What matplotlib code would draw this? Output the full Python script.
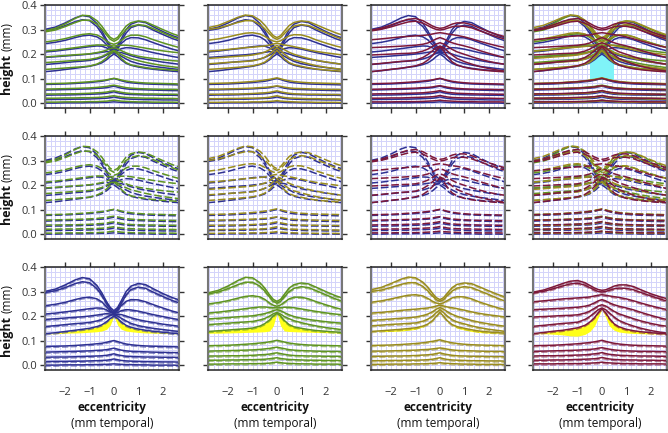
import matplotlib
matplotlib.use("Agg")
import matplotlib.pyplot as plt
from matplotlib.ticker import MultipleLocator
from matplotlib import transforms

# eccentricity samples (mm temporal)
x_mm = [-2.85, -2.4, -2.0, -1.6, -1.3, -1.0, -0.7, -0.5, -0.3, -0.15, 0.0,
        0.15, 0.3, 0.5, 0.7, 1.0, 1.3, 1.6, 2.0, 2.4, 2.7]

# layer boundary heights (mm), top to bottom
blue_layers = [
    [0.300, 0.310, 0.327, 0.347, 0.357, 0.352, 0.325, 0.295, 0.258, 0.235, 0.222, 0.235, 0.262, 0.300, 0.322, 0.333, 0.328, 0.312, 0.292, 0.275, 0.265],
    [0.296, 0.303, 0.316, 0.332, 0.340, 0.336, 0.312, 0.284, 0.250, 0.228, 0.215, 0.228, 0.252, 0.286, 0.308, 0.318, 0.313, 0.298, 0.280, 0.263, 0.253],
    [0.242, 0.248, 0.256, 0.267, 0.274, 0.277, 0.270, 0.258, 0.238, 0.220, 0.211, 0.222, 0.243, 0.260, 0.267, 0.266, 0.258, 0.247, 0.233, 0.220, 0.212],
    [0.208, 0.212, 0.217, 0.222, 0.226, 0.230, 0.233, 0.232, 0.225, 0.216, 0.210, 0.214, 0.222, 0.226, 0.225, 0.220, 0.213, 0.206, 0.198, 0.190, 0.185],
    [0.186, 0.189, 0.192, 0.195, 0.197, 0.200, 0.204, 0.207, 0.210, 0.208, 0.206, 0.207, 0.206, 0.200, 0.193, 0.185, 0.179, 0.174, 0.167, 0.162, 0.158],
    [0.157, 0.161, 0.165, 0.169, 0.171, 0.174, 0.180, 0.186, 0.196, 0.203, 0.205, 0.200, 0.191, 0.180, 0.170, 0.161, 0.155, 0.150, 0.145, 0.140, 0.137],
    [0.128, 0.132, 0.137, 0.142, 0.146, 0.150, 0.157, 0.164, 0.177, 0.190, 0.200, 0.190, 0.176, 0.162, 0.154, 0.147, 0.142, 0.138, 0.134, 0.130, 0.128],
    [0.076, 0.077, 0.078, 0.080, 0.082, 0.084, 0.087, 0.089, 0.093, 0.097, 0.100, 0.096, 0.091, 0.086, 0.083, 0.080, 0.078, 0.077, 0.076, 0.075, 0.074],
    [0.053, 0.054, 0.055, 0.056, 0.057, 0.058, 0.060, 0.061, 0.063, 0.066, 0.069, 0.065, 0.061, 0.058, 0.056, 0.055, 0.054, 0.053, 0.052, 0.051, 0.051],
    [0.032, 0.033, 0.033, 0.034, 0.035, 0.036, 0.037, 0.038, 0.040, 0.043, 0.046, 0.042, 0.039, 0.036, 0.035, 0.034, 0.033, 0.033, 0.032, 0.032, 0.031],
    [0.014, 0.015, 0.015, 0.016, 0.016, 0.017, 0.018, 0.019, 0.020, 0.022, 0.025, 0.022, 0.019, 0.017, 0.016, 0.015, 0.014, 0.014, 0.013, 0.013, 0.012],
    [0.000, 0.000, 0.001, 0.001, 0.001, 0.002, 0.002, 0.003, 0.003, 0.004, 0.005, 0.004, 0.003, 0.002, 0.002, 0.001, 0.001, 0.000, 0.000, 0.000, -0.001],
]
blue_fill_low = [0.127, 0.128, 0.130, 0.131, 0.132, 0.134, 0.136, 0.139, 0.146, 0.163, 0.200, 0.163, 0.146, 0.139, 0.136, 0.133, 0.131, 0.130, 0.129, 0.128, 0.127]

green_layers = [
    [0.294, 0.305, 0.323, 0.345, 0.358, 0.356, 0.336, 0.314, 0.286, 0.268, 0.260, 0.268, 0.288, 0.314, 0.328, 0.335, 0.331, 0.318, 0.300, 0.283, 0.273],
    [0.290, 0.298, 0.312, 0.328, 0.338, 0.338, 0.322, 0.302, 0.277, 0.260, 0.252, 0.260, 0.278, 0.300, 0.313, 0.320, 0.316, 0.304, 0.287, 0.270, 0.260],
    [0.249, 0.255, 0.263, 0.273, 0.280, 0.283, 0.278, 0.268, 0.253, 0.244, 0.240, 0.245, 0.256, 0.270, 0.277, 0.277, 0.270, 0.259, 0.246, 0.234, 0.226],
    [0.212, 0.216, 0.221, 0.226, 0.230, 0.234, 0.237, 0.237, 0.235, 0.234, 0.233, 0.234, 0.236, 0.236, 0.234, 0.229, 0.224, 0.219, 0.213, 0.208, 0.205],
    [0.188, 0.191, 0.194, 0.197, 0.199, 0.201, 0.206, 0.210, 0.216, 0.222, 0.226, 0.222, 0.214, 0.205, 0.198, 0.191, 0.186, 0.182, 0.177, 0.173, 0.171],
    [0.165, 0.168, 0.171, 0.174, 0.176, 0.178, 0.184, 0.190, 0.200, 0.209, 0.215, 0.208, 0.198, 0.189, 0.181, 0.173, 0.166, 0.160, 0.153, 0.148, 0.144],
    [0.137, 0.140, 0.143, 0.146, 0.148, 0.151, 0.159, 0.169, 0.184, 0.200, 0.212, 0.200, 0.182, 0.165, 0.156, 0.150, 0.145, 0.141, 0.138, 0.135, 0.133],
    [0.079, 0.080, 0.081, 0.083, 0.085, 0.087, 0.090, 0.092, 0.095, 0.098, 0.101, 0.098, 0.094, 0.090, 0.087, 0.084, 0.082, 0.081, 0.080, 0.079, 0.078],
    [0.057, 0.058, 0.059, 0.060, 0.061, 0.062, 0.064, 0.066, 0.068, 0.071, 0.073, 0.070, 0.067, 0.063, 0.061, 0.059, 0.058, 0.057, 0.056, 0.056, 0.055],
    [0.037, 0.037, 0.038, 0.038, 0.039, 0.040, 0.042, 0.043, 0.045, 0.048, 0.050, 0.047, 0.044, 0.041, 0.039, 0.038, 0.037, 0.037, 0.036, 0.036, 0.035],
    [0.020, 0.020, 0.021, 0.021, 0.022, 0.022, 0.023, 0.024, 0.026, 0.028, 0.030, 0.027, 0.025, 0.023, 0.022, 0.021, 0.020, 0.020, 0.019, 0.019, 0.018],
    [0.004, 0.004, 0.005, 0.005, 0.005, 0.006, 0.006, 0.007, 0.008, 0.010, 0.012, 0.010, 0.008, 0.007, 0.006, 0.005, 0.005, 0.004, 0.004, 0.004, 0.003],
]
green_fill_low = [0.130, 0.130, 0.131, 0.132, 0.133, 0.134, 0.135, 0.136, 0.139, 0.160, 0.212, 0.160, 0.139, 0.137, 0.136, 0.135, 0.134, 0.133, 0.132, 0.131, 0.130]

olive_layers = [
    [0.307, 0.317, 0.333, 0.350, 0.359, 0.356, 0.338, 0.318, 0.292, 0.275, 0.267, 0.275, 0.293, 0.316, 0.329, 0.335, 0.332, 0.320, 0.303, 0.287, 0.277],
    [0.300, 0.306, 0.317, 0.329, 0.336, 0.336, 0.321, 0.303, 0.281, 0.267, 0.260, 0.267, 0.283, 0.302, 0.314, 0.320, 0.316, 0.304, 0.288, 0.271, 0.260],
    [0.256, 0.262, 0.270, 0.279, 0.285, 0.287, 0.282, 0.272, 0.260, 0.253, 0.250, 0.254, 0.263, 0.274, 0.279, 0.278, 0.270, 0.258, 0.245, 0.233, 0.226],
    [0.212, 0.215, 0.219, 0.223, 0.226, 0.228, 0.231, 0.233, 0.237, 0.241, 0.244, 0.241, 0.237, 0.234, 0.230, 0.224, 0.217, 0.211, 0.205, 0.200, 0.196],
    [0.182, 0.185, 0.188, 0.191, 0.193, 0.196, 0.202, 0.208, 0.218, 0.228, 0.235, 0.228, 0.218, 0.207, 0.199, 0.190, 0.182, 0.175, 0.168, 0.162, 0.158],
    [0.160, 0.163, 0.166, 0.168, 0.170, 0.172, 0.179, 0.187, 0.200, 0.214, 0.226, 0.214, 0.200, 0.185, 0.176, 0.168, 0.160, 0.153, 0.146, 0.141, 0.137],
    [0.137, 0.140, 0.143, 0.146, 0.149, 0.152, 0.159, 0.167, 0.182, 0.199, 0.215, 0.199, 0.181, 0.165, 0.157, 0.150, 0.144, 0.139, 0.135, 0.132, 0.130],
    [0.080, 0.081, 0.082, 0.084, 0.086, 0.088, 0.091, 0.094, 0.097, 0.100, 0.103, 0.099, 0.095, 0.091, 0.088, 0.085, 0.083, 0.082, 0.081, 0.080, 0.079],
    [0.057, 0.057, 0.058, 0.059, 0.060, 0.061, 0.063, 0.064, 0.066, 0.068, 0.070, 0.068, 0.065, 0.062, 0.060, 0.059, 0.058, 0.057, 0.056, 0.056, 0.055],
    [0.036, 0.036, 0.037, 0.037, 0.038, 0.039, 0.041, 0.042, 0.044, 0.047, 0.050, 0.046, 0.043, 0.040, 0.038, 0.037, 0.036, 0.036, 0.035, 0.035, 0.034],
    [0.018, 0.018, 0.019, 0.019, 0.020, 0.020, 0.021, 0.022, 0.024, 0.027, 0.030, 0.026, 0.023, 0.021, 0.020, 0.019, 0.018, 0.018, 0.017, 0.017, 0.016],
    [0.003, 0.003, 0.004, 0.004, 0.004, 0.005, 0.005, 0.006, 0.007, 0.008, 0.010, 0.008, 0.007, 0.006, 0.005, 0.004, 0.004, 0.003, 0.003, 0.003, 0.002],
]
olive_fill_low = [0.137, 0.137, 0.137, 0.139, 0.142, 0.146, 0.156, 0.166, 0.182, 0.199, 0.215, 0.199, 0.181, 0.163, 0.151, 0.143, 0.137, 0.133, 0.130, 0.130, 0.130]

maroon_layers = [
    [0.297, 0.306, 0.319, 0.333, 0.342, 0.345, 0.336, 0.325, 0.314, 0.308, 0.305, 0.307, 0.313, 0.322, 0.327, 0.327, 0.320, 0.307, 0.291, 0.278, 0.270],
    [0.294, 0.301, 0.311, 0.323, 0.331, 0.334, 0.326, 0.316, 0.306, 0.300, 0.298, 0.300, 0.305, 0.311, 0.314, 0.313, 0.307, 0.296, 0.282, 0.269, 0.260],
    [0.258, 0.262, 0.266, 0.270, 0.272, 0.274, 0.276, 0.278, 0.282, 0.285, 0.287, 0.285, 0.282, 0.279, 0.276, 0.270, 0.262, 0.253, 0.242, 0.232, 0.226],
    [0.226, 0.228, 0.230, 0.232, 0.234, 0.236, 0.240, 0.245, 0.254, 0.262, 0.267, 0.262, 0.254, 0.246, 0.240, 0.233, 0.225, 0.215, 0.203, 0.192, 0.185],
    [0.196, 0.198, 0.200, 0.202, 0.203, 0.205, 0.212, 0.220, 0.232, 0.241, 0.246, 0.241, 0.232, 0.219, 0.209, 0.199, 0.189, 0.180, 0.170, 0.162, 0.158],
    [0.158, 0.162, 0.166, 0.170, 0.172, 0.175, 0.186, 0.198, 0.214, 0.226, 0.233, 0.226, 0.213, 0.196, 0.182, 0.169, 0.159, 0.150, 0.141, 0.134, 0.130],
    [0.128, 0.133, 0.138, 0.142, 0.147, 0.152, 0.162, 0.175, 0.194, 0.214, 0.229, 0.214, 0.191, 0.168, 0.156, 0.146, 0.140, 0.136, 0.132, 0.129, 0.128],
    [0.079, 0.080, 0.081, 0.083, 0.085, 0.087, 0.090, 0.092, 0.095, 0.098, 0.101, 0.097, 0.093, 0.089, 0.086, 0.083, 0.081, 0.080, 0.079, 0.078, 0.077],
    [0.056, 0.057, 0.058, 0.059, 0.060, 0.061, 0.063, 0.064, 0.066, 0.069, 0.071, 0.068, 0.065, 0.062, 0.060, 0.058, 0.057, 0.056, 0.056, 0.055, 0.055],
    [0.037, 0.038, 0.038, 0.039, 0.040, 0.041, 0.042, 0.044, 0.046, 0.048, 0.051, 0.047, 0.044, 0.042, 0.040, 0.039, 0.038, 0.037, 0.037, 0.036, 0.036],
    [0.020, 0.020, 0.021, 0.021, 0.022, 0.023, 0.024, 0.025, 0.026, 0.028, 0.031, 0.028, 0.025, 0.023, 0.022, 0.021, 0.021, 0.020, 0.020, 0.019, 0.019],
    [0.005, 0.005, 0.005, 0.006, 0.006, 0.006, 0.007, 0.008, 0.009, 0.010, 0.012, 0.010, 0.009, 0.008, 0.007, 0.006, 0.006, 0.005, 0.005, 0.005, 0.004],
]
maroon_fill_low = [0.128, 0.128, 0.126, 0.123, 0.119, 0.118, 0.125, 0.137, 0.160, 0.195, 0.229, 0.195, 0.160, 0.142, 0.135, 0.131, 0.129, 0.128, 0.127, 0.127, 0.127]

# foveal box shaded in the combined panel
cyan_x = [-0.5, 0.5]
cyan_lo = [0.095, 0.095]
cyan_hi = [0.218, 0.218]

x_ticks = [-2, -1, 0, 1, 2]
y_ticks = [0.0, 0.1, 0.2, 0.3, 0.4]

groups = {
    "blue": (blue_layers, blue_fill_low, "#2e3192"),
    "green": (green_layers, green_fill_low, "#5f9421"),
    "olive": (olive_layers, olive_fill_low, "#9a8c1e"),
    "maroon": (maroon_layers, maroon_fill_low, "#7d1839"),
}
pair_cols = [["blue", "green"], ["blue", "olive"], ["blue", "maroon"],
             ["blue", "green", "olive", "maroon"]]
single_cols = ["blue", "green", "olive", "maroon"]

plt.rcParams['font.family'] = ['Open Sans', 'DejaVu Sans']

W, H = 668, 433
fig = plt.figure(figsize=(W / 100, H / 100), dpi=100)
col_left = [45, 208, 371, 533]
row_top = [5, 136, 267]
ax_w, ax_h = 134, 103


def setup(ax, r, c):
    ax.set_xlim(-2.83, 2.67)
    ax.set_ylim(-0.02, 0.4)
    ax.xaxis.set_minor_locator(MultipleLocator(0.2))
    ax.yaxis.set_minor_locator(MultipleLocator(0.02))
    ax.grid(which='both', color='#d3d3fa', lw=0.7)
    ax.set_axisbelow(True)
    ax.set_xticks(x_ticks)
    ax.set_yticks(y_ticks)
    ax.set_yticklabels(["%.1f" % v for v in y_ticks])
    ax.tick_params(which='minor', length=0)
    ax.tick_params(axis='y', which='major', direction='out', length=3.5, width=1,
                   left=True, right=True, labelleft=(c == 0), labelsize=8,
                   labelcolor='#333333', color='#333333', pad=2)
    ax.tick_params(axis='x', which='major', direction='out', length=3.5, width=1,
                   bottom=(r == 0), top=(r > 0), labelbottom=(r == 2),
                   labeltop=False, labelsize=8, labelcolor='#333333',
                   color='#333333', pad=9)
    for s in ['top', 'bottom']:
        ax.spines[s].set_color('#222222')
        ax.spines[s].set_linewidth(1.1)
    for s in ['left', 'right']:
        ax.spines[s].set_color('#777777')
        ax.spines[s].set_linewidth(1.5)


for r in range(3):
    for c in range(4):
        ax = fig.add_axes([col_left[c] / W, 1 - (row_top[r] + ax_h) / H, ax_w / W, ax_h / H])
        setup(ax, r, c)
        if r < 2:
            if r == 0 and c == 3:
                ax.fill_between(cyan_x, cyan_lo, cyan_hi, color='#7ff3f8', lw=0, zorder=1)
            for g in pair_cols[c]:
                layers, low, col = groups[g]
                for ys in layers:
                    if r == 0:
                        ax.plot(x_mm, ys, color=col, lw=1.1, zorder=2)
                    else:
                        ax.plot(x_mm, ys, color=col, lw=1.1, dashes=(5, 1.8), zorder=2)
        else:
            layers, low, col = groups[single_cols[c]]
            ax.fill_between(x_mm, low, layers[6], color='#ffff1a', lw=0, zorder=1)
            off = transforms.offset_copy(ax.transData, fig=fig, x=0, y=-1.2, units='dots')
            for ys in layers:
                ax.plot(x_mm, ys, color=col, lw=1.1, zorder=2)
                ax.plot(x_mm, ys, color=col, lw=0.9, alpha=0.55, dashes=(5, 2),
                        transform=off, zorder=3)
        if c == 0:
            yc = row_top[r] + ax_h / 2
            fig.text(7 / W, 1 - (yc + 17) / H, "height", rotation=90, ha='center',
                     va='center', fontsize=9, fontweight='bold', color='#111111')
            fig.text(7 / W, 1 - (yc - 20) / H, "(mm)", rotation=90, ha='center',
                     va='center', fontsize=8.5, color='#111111')
        if r == 2:
            xc = col_left[c] + ax_w / 2
            fig.text(xc / W, 1 - 408 / H, "eccentricity", ha='center', va='center',
                     fontsize=8.5, fontweight='bold', color='#111111')
            fig.text(xc / W, 1 - 424 / H, "(mm temporal)", ha='center', va='center',
                     fontsize=8.5, color='#111111')

fig.savefig("out.png", dpi=100)
